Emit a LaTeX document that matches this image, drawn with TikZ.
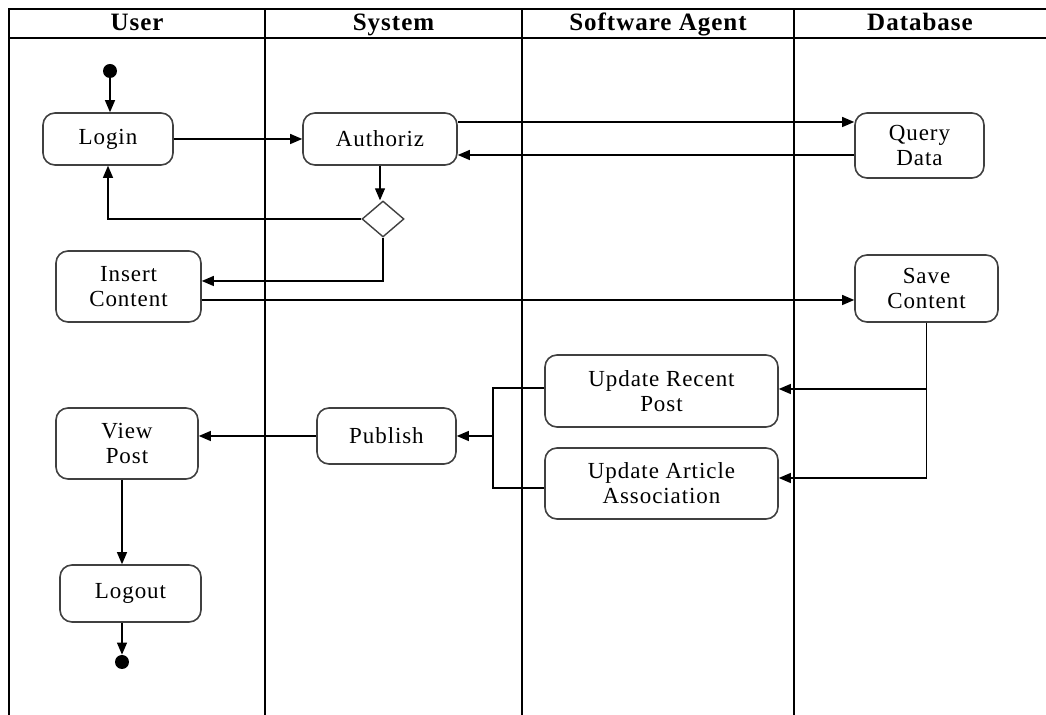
\documentclass[tikz,border=0pt]{standalone}
\usepackage{fontspec}
\setmainfont[LetterSpace=4]{Liberation Serif}
\usetikzlibrary{shapes.geometric,arrows.meta}

\begin{document}
\begin{tikzpicture}
[x=0.5pt,y=-0.5pt,
  actdecorate/.style={shape=rectangle,rounded corners=6pt,draw=black!75,line width=0.8pt,%
    align=center,inner sep=0pt,font=\fontsize{11.5}{12.5}\selectfont},
  dotdecorate/.style={shape=circle,fill=black,inner sep=0pt,minimum size=7pt},
  choicedecorate/.style={shape=diamond,draw=black!75,line width=0.7pt,inner sep=0pt,%
    minimum width=21pt,minimum height=18pt},
  headdecorate/.style={anchor=base,font=\fontsize{12.5}{12.5}\selectfont\bfseries},
  lanedecorate/.style={line width=0.8pt},
  flowdecorate/.style={-{Triangle[length=6pt,width=5pt]},line width=0.6pt},
  linkdecorate/.style={line width=0.6pt}]
\useasboundingbox (0,0) rectangle (1046,715);
%% lanes
\draw[lanedecorate] (9,715) -- (9,9) -- (1046,9);
\draw[lanedecorate] (9,38) -- (1046,38);
\foreach \x in {265,522,794} {
  \draw[lanedecorate] (\x,9) -- (\x,715);
}
\foreach \lanename/\xa/\xb [count=\i] in {
  User/9/265, System/265/522, Software Agent/522/794, Database/794/1046} {
  \node (head\i) at ({(\xa+\xb)/2},31) [headdecorate] {\lanename};
}
%% activities
\foreach \nodename/\x/\y/\w/\h/\txt in {
  login/108/139/65/26/Login, authoriz/380/139/77/26/Authoriz,
  query/919.5/145.5/64.5/32.5/{Query\\Data},
  insert/128.5/286.5/72.5/35.5/{Insert\\Content},
  save/926.5/288.5/71.5/33.5/{Save\\Content},
  recent/661.5/391/116.5/36/{Update Recent\\Post},
  article/661.5/483.5/116.5/35.5/{Update Article\\Association},
  publish/386.5/436/69.5/28/Publish,
  view/127/443.5/71/35.5/{View\\Post},
  logout/130.5/593.5/70.5/28.5/Logout} {
  \node (\nodename) at (\x,\y) [actdecorate,minimum width=\w pt,minimum height=\h pt] {\txt};
}
\node (start) at (110,71) [dotdecorate] {};
\node (stop) at (122,662) [dotdecorate] {};
\node (choice) at (383,219) [choicedecorate] {};
%% flows
\draw[flowdecorate] (start) -- (login.north -| start);
\draw[flowdecorate] (login) -- (authoriz);
\draw[flowdecorate] (authoriz.east |- 0,122) -- (query.west |- 0,122);
\draw[flowdecorate] (query.west |- 0,155) -- (authoriz.east |- 0,155);
\draw[flowdecorate] (authoriz.south -| 380,0) -- (choice.north -| 380,0);
\draw[flowdecorate] (choice.west) -| (login.south);
\draw[flowdecorate] (choice.south) |- (insert.east |- 0,281);
\draw[flowdecorate] (insert.east |- 0,300) -- (save.west |- 0,300);
\draw[flowdecorate] (save.south) |- (recent.east |- 0,389);
\draw[flowdecorate] (save.south) |- (article.east |- 0,478);
\coordinate (merge) at (493,436);
\draw[linkdecorate] (recent.west |- 0,388) -| (merge) |- (article.west |- 0,488);
\draw[flowdecorate] (merge) -- (publish.east);
\draw[flowdecorate] (publish) -- (view.east |- publish);
\draw[flowdecorate] (view.south -| stop) -- (logout.north -| stop);
\draw[flowdecorate] (logout.south -| stop) -- (stop);
\end{tikzpicture}
\end{document}
